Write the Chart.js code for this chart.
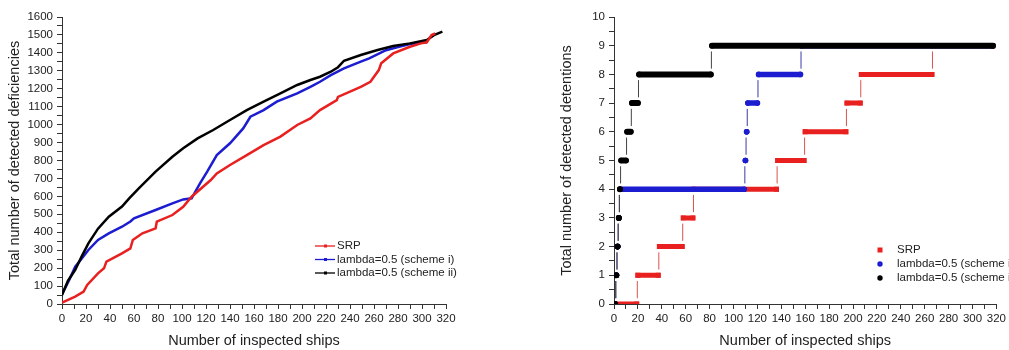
<!DOCTYPE html>
<html>
<head>
<meta charset="utf-8">
<script src="https://cdn.jsdelivr.net/npm/chart.js@4.4.1/dist/chart.umd.min.js"></script>
<style>
  html, body { margin: 0; padding: 0; background: #fff; overflow: hidden; }
  .wrap { position: absolute; top: 0; height: 350px; }
  #left { left: 0; width: 505px; }
  #right { left: 505px; width: 504px; }
</style>
</head>
<body>
<div class="wrap" id="left"><canvas id="defChart"></canvas></div>
<div class="wrap" id="right"><canvas id="detChart"></canvas></div>
<script>
// ---- left: cumulative deficiencies ----
const shipsSRP = [0, 11, 18, 21, 30, 35, 37, 50, 57, 59, 67, 78, 79, 92, 101, 108, 124, 129, 140, 154,
    168, 182, 196, 207, 215, 229, 230, 249, 257, 264, 266, 276, 290, 299, 304, 308, 311];
const srp = [8, 41, 69, 106, 171, 199, 236, 282, 310, 357, 394, 422, 459, 496, 542, 598, 691, 728, 775, 830,
    886, 933, 998, 1035, 1081, 1137, 1155, 1211, 1239, 1304, 1342, 1397, 1434, 1453, 1459, 1499, 1508];

const shipsI = [0, 6, 11, 16, 22, 30, 39, 50, 57, 60, 78, 92, 101, 108, 115, 121, 129, 140, 151, 157,
    168, 179, 196, 207, 215, 224, 235, 249, 256, 270, 280, 290, 304];
const schemeI = [55, 134, 208, 250, 301, 357, 394, 431, 460, 478, 524, 561, 583, 589, 673, 738, 830, 896, 979, 1044,
    1081, 1128, 1174, 1211, 1239, 1276, 1314, 1351, 1369, 1415, 1432, 1449, 1459];

const shipsII = [0, 5, 11, 16, 22, 30, 39, 50, 56, 64, 78, 92, 101, 113, 126, 140, 154, 168, 182, 196,
    207, 215, 224, 230, 235, 249, 263, 276, 290, 304, 310, 317];
const schemeII = [50, 130, 190, 260, 338, 420, 487, 543, 589, 645, 738, 821, 868, 923, 970, 1026, 1081, 1128, 1174, 1221,
    1249, 1267, 1295, 1320, 1356, 1388, 1416, 1438, 1453, 1472, 1499, 1518];

// ---- right: detentions, ship number at which each new detention appears ----
const nShips = 317;
const srpSteps = [20, 38, 58, 67, 137, 160, 195, 207, 267];
const schemeISteps = [2, 3, 4, 5, 110, 111, 112, 121, 157];
const schemeIISteps = [2, 3, 4, 5, 6, 11, 15, 21, 82];

const labels = ['SRP', 'lambda=0.5 (scheme i)', 'lambda=0.5 (scheme ii)'];
const colors = ['#e8201f', '#1c1cd0', '#000000'];
const riserColors = ['#d9534f', '#3a3aa8', '#444444'];

const fontFamily = '"Liberation Sans", Arial, Helvetica, sans-serif';
Chart.defaults.font.family = fontFamily;
Chart.defaults.color = '#222';
const axisColor = '#333';

const zip = (xs, ys) => xs.map((x, i) => ({ x: x, y: ys[i] }));

// horizontal bar per detention level
const stepBars = (steps) => {
    const pts = [];
    [0, ...steps].forEach((s, k) => {
        const e = k < steps.length ? steps[k] - 1 : nShips;
        pts.push({ x: s, y: k }, { x: e, y: k }, { x: e, y: null });
    });
    return pts;
};
// thin vertical connector between levels
const stepRisers = (steps) => {
    const pts = [];
    steps.forEach((s, k) => {
        pts.push({ x: s - 0.5, y: k + 0.2 }, { x: s - 0.5, y: k + 0.8 }, { x: s, y: null });
    });
    return pts;
};

const cornerLegend = {
    id: 'cornerLegend',
    afterDraw(chart, args, opts) {
        const ctx = chart.ctx;
        ctx.save();
        ctx.font = '11.5px ' + fontFamily;
        ctx.textBaseline = 'middle';
        let y = opts.top;
        chart.data.datasets.forEach((ds) => {
            if (!ds.label) return;
            const c = ds.borderColor;
            ctx.fillStyle = c;
            ctx.strokeStyle = c;
            if (opts.kind === 'line') {
                ctx.lineWidth = 1.3;
                ctx.beginPath();
                ctx.moveTo(opts.markX, y);
                ctx.lineTo(opts.markX + 20, y);
                ctx.stroke();
                ctx.fillRect(opts.markX + 9, y - 1.5, 3, 3);
            } else if (ds.pointStyle === 'rect') {
                ctx.fillRect(opts.markX - 2.5, y - 2.5, 5, 5);
            } else {
                ctx.beginPath();
                ctx.arc(opts.markX, y, 2.7, 0, Math.PI * 2);
                ctx.fill();
            }
            ctx.fillStyle = '#222';
            ctx.fillText(ds.label, opts.textX, y);
            y += opts.spacing;
        });
        ctx.restore();
    },
};

const axis = (max, step, labelEvery, title, isX) => ({
    type: 'linear',
    min: 0,
    max: max,
    afterFit: (s) => { if (isX) s.height = 46; else s.width = 62; },
    ticks: {
        stepSize: step,
        autoSkip: false,
        maxRotation: 0,
        padding: isX ? 3 : 4,
        font: { size: 11.5 },
        color: '#222',
        callback: (v) => (Math.abs(v / labelEvery - Math.round(v / labelEvery)) < 1e-6 ? v : ''),
    },
    grid: { drawOnChartArea: false, tickLength: 5, color: axisColor },
    border: { color: axisColor, width: 1 },
    title: {
        display: true,
        text: title,
        font: { size: 14.5 },
        color: '#222',
        padding: isX ? { top: 0, bottom: 0 } : { top: 6, bottom: 0 },
    },
});

// left chart
new Chart(document.getElementById('defChart'), {
    type: 'line',
    data: {
        datasets: [
            { label: labels[0], data: zip(shipsSRP, srp), borderColor: colors[0], order: 0 },
            { label: labels[1], data: zip(shipsI, schemeI), borderColor: colors[1], order: 2 },
            { label: labels[2], data: zip(shipsII, schemeII), borderColor: colors[2], order: 1 },
        ],
    },
    options: {
        responsive: true,
        maintainAspectRatio: false,
        animation: false,
        layout: { padding: { left: 0, right: 59, top: 17, bottom: 0 } },
        elements: { line: { borderWidth: 2.5, tension: 0 }, point: { radius: 0 } },
        plugins: {
            legend: { display: false },
            tooltip: { enabled: false },
            cornerLegend: { kind: 'line', top: 246, spacing: 13.5, markX: 315, textX: 337 },
        },
        scales: {
            x: axis(320, 10, 20, 'Number of inspected ships', true),
            y: axis(1600, 50, 100, 'Total number of detected deficiencies', false),
        },
    },
    plugins: [cornerLegend],
});

// right chart
const stepSets = [srpSteps, schemeISteps, schemeIISteps];
const barWidth = [5, 5.5, 6];
const pStyle = ['rect', 'circle', 'circle'];
const detDatasets = [];
stepSets.forEach((steps, i) => {
    detDatasets.push({
        label: labels[i],
        data: stepBars(steps),
        borderColor: colors[i],
        backgroundColor: colors[i],
        borderWidth: barWidth[i],
        borderCapStyle: i === 0 ? 'square' : 'round',
        pointStyle: pStyle[i],
        pointRadius: i === 0 ? 3.5 : 2.8,
        pointBorderWidth: 0,
        pointBackgroundColor: colors[i],
        spanGaps: false,
        order: (2 - i) * 2,
    });
    detDatasets.push({
        data: stepRisers(steps),
        borderColor: riserColors[i],
        borderWidth: 1,
        pointRadius: 0,
        spanGaps: false,
        order: (2 - i) * 2 + 1,
    });
});

new Chart(document.getElementById('detChart'), {
    type: 'line',
    data: { datasets: detDatasets },
    options: {
        responsive: true,
        maintainAspectRatio: false,
        animation: false,
        layout: { padding: { left: 47, right: 11, top: 17, bottom: 0 } },
        elements: { line: { tension: 0 } },
        plugins: {
            legend: { display: false },
            tooltip: { enabled: false },
            cornerLegend: { kind: 'marker', top: 250, spacing: 14, markX: 375, textX: 392 },
        },
        scales: {
            x: axis(320, 10, 20, 'Number of inspected ships', true),
            y: axis(10, 0.5, 1, 'Total number of detected detentions', false),
        },
    },
    plugins: [cornerLegend],
});
</script>
</body>
</html>
